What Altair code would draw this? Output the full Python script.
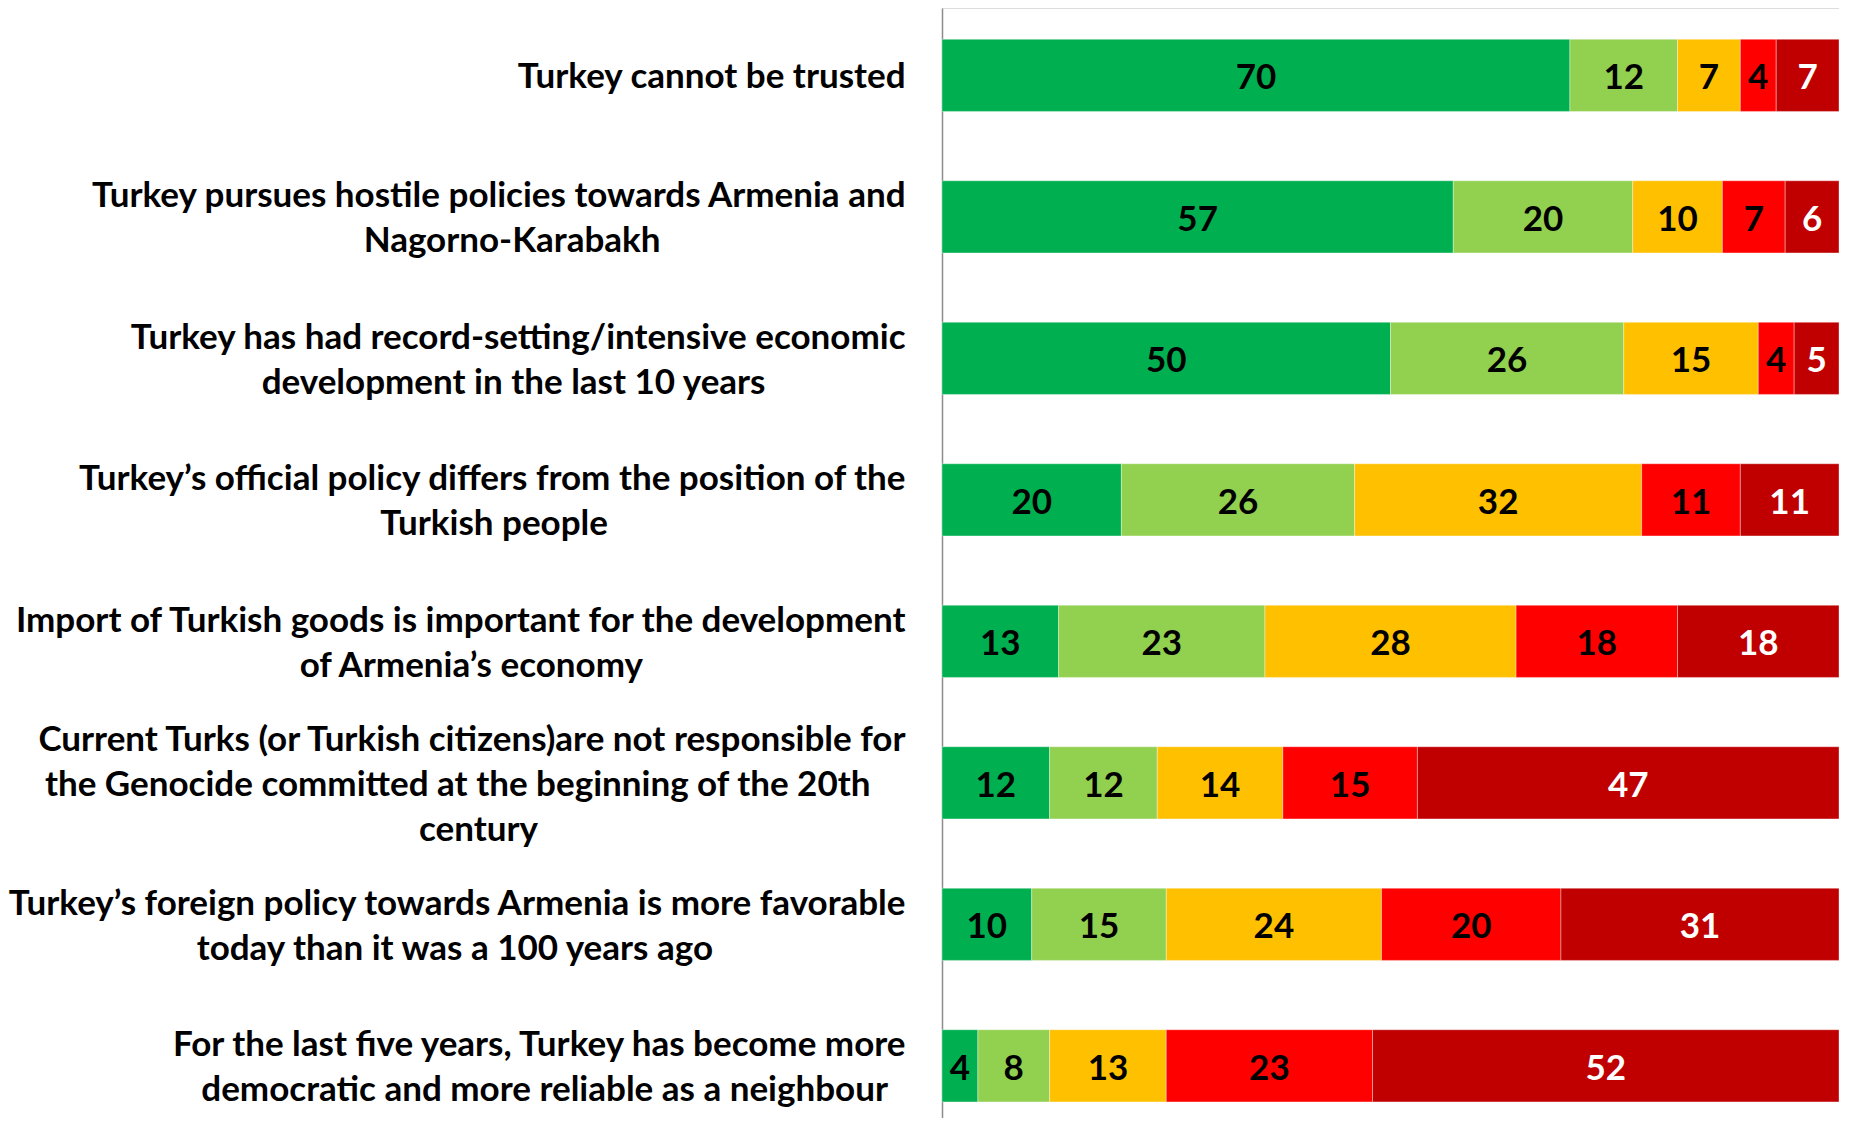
import altair as alt
import pandas as pd

questions = [
    "Turkey cannot be trusted",
    "Turkey pursues hostile policies towards Armenia and|Nagorno-Karabakh",
    "Turkey has had record-setting/intensive economic|development in the last 10 years",
    "Turkey’s official policy differs from the position of the|Turkish people",
    "Import of Turkish goods is important for the development|of Armenia’s economy",
    "Current Turks (or Turkish citizens)are not responsible for|the Genocide committed at the beginning of the 20th|century",
    "Turkey’s foreign policy towards Armenia is more favorable|today than it was a 100 years ago",
    "For the last five years, Turkey has become more|democratic and more reliable as a neighbour",
]
series = ["Completely agree", "Rather agree", "Neither agree nor disagree", "Rather disagree", "Completely disagree"]
colors = ["#00B050", "#92D050", "#FFC000", "#FF0000", "#C00000"]

completely_agree = [70, 57, 50, 20, 13, 12, 10, 4]
rather_agree = [12, 20, 26, 26, 23, 12, 15, 8]
neither = [7, 10, 15, 32, 28, 14, 24, 13]
rather_disagree = [4, 7, 4, 11, 18, 15, 20, 23]
completely_disagree = [7, 6, 5, 11, 18, 47, 31, 52]

values = [completely_agree, rather_agree, neither, rather_disagree, completely_disagree]

# rough glyph advance widths (em), used only to centre the lines of each label
_W = {' ': 0.20, 'i': 0.25, 'l': 0.25, 'j': 0.25, 'f': 0.33, 't': 0.36, 'r': 0.37, 'I': 0.29,
      '’': 0.22, "'": 0.22, ',': 0.22, '.': 0.22, '-': 0.35, '(': 0.30, ')': 0.30, '/': 0.37,
      's': 0.42, 'c': 0.46, 'z': 0.45, 'e': 0.52, 'a': 0.50, 'g': 0.51, 'k': 0.52, 'v': 0.52,
      'y': 0.52, 'x': 0.51, 'm': 0.83, 'w': 0.77, 'T': 0.58, 'F': 0.55}


def _width(s):
    w = 0.0
    for ch in s:
        if ch in _W:
            w += _W[ch]
        elif ch.isdigit():
            w += 0.58
        elif ch.isupper():
            w += 0.66
        else:
            w += 0.56
    return w


def pad_label(q):
    lines = q.split("|")
    m = max(_width(l) for l in lines)
    out = []
    for l in lines:
        n = round((m - _width(l)) / 2 / 0.5)
        out.append(l + ("\u2002" * n + "\u200c" if n > 0 else ""))
    return "|".join(out)


labels = [pad_label(q) for q in questions]

rows = []
for qi, lab in enumerate(labels):
    for si, s in enumerate(series):
        rows.append({"question": lab, "qorder": qi, "series": s, "sorder": si, "value": values[si][qi]})
df = pd.DataFrame(rows)

FONT = "Lato"
FS = 35
LH = 45

y_axis = alt.Axis(
    labelExpr="split(datum.label, '|')",
    labelFont=FONT,
    labelFontSize=FS,
    labelFontWeight="bold",
    labelColor="#000000",
    labelLineHeight=LH,
    labelLimit=0,
    labelPadding=37,
    labelAlign="right",
    labelBaseline="middle",
    labelOffset={
        "condition": [
            {"test": "length(split(datum.label, '|')) == 3", "value": -LH + 2},
            {"test": "length(split(datum.label, '|')) == 2", "value": -LH / 2 + 2},
        ],
        "value": 2,
    },
    ticks=False,
    tickSize=0,
    domain=True,
    domainColor="#8c8c8c",
    domainWidth=1.5,
    grid=False,
)

yscale = alt.Scale(paddingInner=0.49, paddingOuter=0.1675, align=0.66)

base = alt.Chart(df).transform_stack(
    stack="value", groupby=["question"], as_=["x0", "x1"], sort=[alt.SortField("sorder", order="ascending")]
).transform_calculate(mid="(datum.x0 + datum.x1) / 2")

xscale = alt.Scale(domain=[0, 100], nice=False, zero=True)

bars = base.mark_bar(stroke="#ffffff", strokeWidth=0.6, strokeOpacity=0.6).encode(
    y=alt.Y("question:N", sort=labels, title=None, scale=yscale, axis=y_axis),
    x=alt.X("x0:Q", scale=xscale, axis=None),
    x2="x1:Q",
    color=alt.Color("series:N", scale=alt.Scale(domain=series, range=colors), legend=None),
)

texts = base.mark_text(font=FONT, fontSize=FS, fontWeight="bold", baseline="middle", align="center", dy=3).encode(
    y=alt.Y("question:N", sort=labels, title=None, scale=yscale, axis=y_axis),
    x=alt.X("mid:Q", scale=xscale, axis=None),
    text="value:Q",
    color=alt.condition(alt.datum.series == series[-1], alt.value("#ffffff"), alt.value("#000000")),
)

chart = (
    alt.layer(bars, texts)
    .properties(
        width=897,
        height=1110,
        autosize=alt.AutoSizeParams(type="none"),
        padding={"left": 934, "top": 0, "right": 0, "bottom": 0},
    )
    .configure_view(stroke="transparent", strokeWidth=0)
    .configure(background="#ffffff")
)

chart.save("out.html", embed_options={"renderer": "svg", "actions": False})
